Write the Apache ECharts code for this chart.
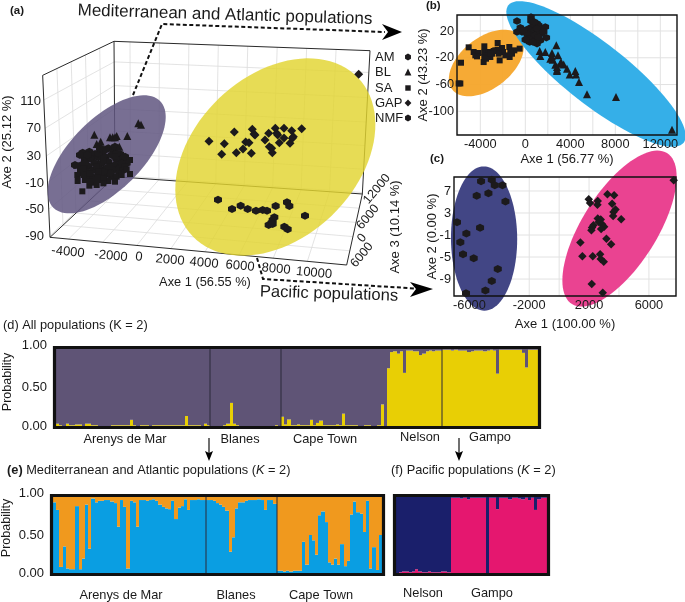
<!DOCTYPE html>
<html><head><meta charset="utf-8">
<style>html,body{margin:0;padding:0;background:#fff}#c{width:685px;height:602px}</style>
<script src="https://cdn.jsdelivr.net/npm/echarts@6/dist/echarts.min.js"></script>
</head><body><div id="c"></div>
<script>
// ---------- panel (a): projected ordination scores
const a_AM=[[-3040,31],[-2640,32.5],[-2300,29],[-1900,32.5],[-1500,37.5],[-1200,35],[-800,29],[-2900,21],[-2500,21],[-2100,24],[-1700,25],[-1300,27.5],[-1000,21],[-600,22.5],[-400,15],[-3500,12.5],[-3100,12.5],[-2700,11],[-2300,15],[-1900,15],[-1500,17.5],[-1100,12.5],[-700,15],[-2800,2.5],[-2400,5],[-2000,6],[-1600,7.5],[-1200,5],[-800,7.5],[-2500,-5],[-2100,-2.5],[-1700,-2.5],[-1300,-4],[-3200,27.5],[-2760,27.5],[-2100,30],[-1700,35],[-1000,30],[-2000,37.5],[-1100,40],[-500,25],[-600,5],[-2900,15],[-1400,0],[-1800,2.5]];
const a_BL=[[-2340,58],[-1000,56],[-360,56],[300,75],[460,73],[-1400,54],[-1240,54],[-2200,44],[-1960,47.5],[-840,40],[-1100,54]];
const a_SA=[[-3340,-11.5],[-3060,-27],[-2640,-18.5],[-2440,-14],[-3440,11.5],[-3360,-2.5],[-200,-1],[-200,20],[-500,10],[-900,0],[-1500,-11.5],[-2000,-10],[-2800,-5],[-3200,0],[-2300,-10],[-1800,-7.5],[-1000,-5],[-3000,7.5],[-2600,0],[-1400,10],[-2200,10],[-1800,20],[-1100,25],[-3200,5],[-2900,-10],[-2600,-12.5],[-2200,-17.5],[-1800,-15],[-1100,-12.5],[-400,6],[-2100,2.5],[-3000,-2.5],[-700,-2.5]];
const a_GAP=[[4540,48],[5460,44.5],[5300,28.5],[6060,62],[6180,31],[6580,36.5],[6740,47],[6940,46],[7080,30],[7140,66],[7240,59],[7300,57.5],[7900,50],[8120,60],[8520,67.5],[8600,60],[8660,57.5],[9040,67.5],[8760,46],[9040,53],[8160,40],[8300,37.5],[8340,31],[9400,45],[9500,64],[9600,55],[9540,52.5],[10100,67],[13520,148.5]];
const a_NMF=[[5080,-39.5],[5920,-53.5],[6440,-48.5],[6860,-53.5],[7360,-56],[7760,-55],[8020,-56],[8540,-49],[9220,-43.5],[9360,-49],[10300,-63.5],[8460,-66],[8360,-70],[8300,-74],[8120,-77.5],[8360,-76],[9060,-80],[9260,-84]];
// ---------- panel (b)
const b_AM=[[-741,34.9],[504,40.9],[-741,18.5],[-296,18.5],[0,20],[296,23.5],[593,26],[1037,31],[1185,28.5],[1481,23.5],[1778,26],[1867,10],[1185,18.5],[889,21],[593,16],[444,13.5],[148,8.5],[385,3.5],[1037,1],[800,8.5],[1333,6],[889,13.5],[148,16],[-444,25],[-148,21],[741,30],[1037,23.5],[1333,16],[296,8.5],[681,3.5],[1630,18.5],[504,35],[800,33.5],[1185,11],[0,7]];
const b_BL=[[2756,-1.4],[1274,-9.9],[1778,-11.4],[2370,-12.9],[2904,-16.4],[1333,-17.4],[2430,-22.9],[2222,-21.4],[2667,-30.4],[3170,-26.4],[3407,-29.9],[2815,-37.9],[3704,-36.4],[4444,-39.9],[2815,-39.9],[3941,-44.9],[4504,-44.9],[4770,-56.2],[5482,-74.6],[8059,-78.6],[13037,-127.4],[2370,-17.9],[3111,-28.9],[2815,-33.8]];
const b_SA=[[-5037,-4.4],[-3644,-2.9],[-2459,2.1],[-1422,-3.9],[-504,-6.4],[-4593,-11.4],[-4444,-16.4],[-4148,-12.9],[-3644,-11.4],[-3259,-11.4],[-2963,-13.9],[-2667,-8.9],[-2459,-7.9],[-2074,-5.4],[-1985,-11.4],[-2370,-13.9],[-3111,-18.9],[-3407,-16.4],[-3644,-18.9],[-3704,-26.4],[-3496,-21.4],[-2281,-23.9],[-1393,-18.9],[-1185,-13.9],[-978,-8.9],[-4296,-17.9],[-1778,-16.4],[-2815,-9.9],[-5719,-27.4],[-5778,-58.4],[-5926,-58.4],[-1333,-11.4],[-3111,-13.9]];
// ---------- panel (c)
const c_NMF=[[-5219,8.75],[-4504,9.05],[-4303,8.03],[-3789,8.03],[-4727,6.58],[-5510,6.15],[-3588,5.07],[-6828,1.32],[-5286,0.3],[-6202,-0.73],[-6605,-2.3],[-6426,-4.48],[-5711,-5.2],[-4102,-7.19],[-4504,-9.37],[-4929,-11.06],[-6225,-11.6]];
const c_GAP=[[1978,5.49],[2067,4.83],[2581,5.19],[2559,4.52],[3229,6.4],[3676,6.21],[3542,4.7],[3766,3.62],[3631,3.19],[3609,2.47],[4146,1.87],[2581,1.99],[2782,1.81],[2648,1.38],[2872,0.96],[3006,0.48],[2291,0.78],[2201,0.36],[2156,-0.13],[2805,0.11],[3162,-1.7],[3475,-2.66],[1419,-2.36],[1553,-4.84],[2246,-4.84],[2738,-4.48],[2782,-5.38],[2983,-5.86],[2179,-9.91],[2916,-11.48],[7655,8.93]];
// ellipses: centre x,y ; end of first semi-axis x,y ; end of second semi-axis x,y
const ellipseA1=[-1600,28.5,1600,108.5,-80,-9.5];
const ellipseA2=[8520,24.5,13480,143.5,11900,-63.5];
const ellipseB1=[-3467,-27.8,-444,12,-2074,-57.7];
const ellipseB2=[6282,-44.2,14074,-146.8,7970,-7.9];
const ellipseC1=[-5018,-1.64,-5040,11.47,-2805,-1.64];
const ellipseC2=[4034,0.17,7208,13.89,6157,-3.39];
// ---------- panel (d): membership in the yellow cluster
const d_AM=[.03,.01,0,.03,.01,.01,.02,.02,0,.03,.03,.01,.01,0,0,0,0,.01,.01,.01,.01,.01,.01,.08,.01,0,.01,.01,.01,0,.01,.01,.01,.01,.01,.01,.01,.01,.01,.01,.13,.01,.01,.01,.01,0,.03,.01];
const d_BL=[0,0,0,0,.01,.03,.30,.03,.01,0,0,0,0,0,0,0,0,0,0,0,.01,0];
const d_SA=[.12,.02,.085,.01,.01,.02,.01,.01,.01,.08,.01,.04,.07,.01,.01,.01,.01,.02,.01,.16,.01,.01,.01,.01,0,0,.01,.01,0,0,.01,.28,0];
const d_NE=[.75,.96,.97,.94,.97,.69,.98,.98,.97,.97,.92,.94,.97,.98,.97,.98,.98];
const d_GA=[.99,.99,.99,.98,.99,.98,.98,.98,.96,.97,.98,.98,.98,.97,.98,.99,.98,.68,.99,.99,.99,.99,.99,.99,.99,.95,.76,.99,.99,.99];
// ---------- panel (e): membership in the blue cluster
const e_AM=[.93,.83,.08,.35,.06,.05,.05,.88,.05,.19,.90,.32,.98,.93,.95,.95,.96,.96,.94,.92,.61,.96,.87,.06,.95,.93,.61,.96,.96,.95,.96,.97,.95,.90,.87,.85,.84,.95,.71,.86,.88,.97,.83,.96,.96,.97,.96,.96];
const e_BL=[.96,.96,.95,.92,.90,.87,.82,.28,.47,.85,.93,.93,.95,.96,.96,.96,.97,.96,.83,.96,.96,.91];
const e_SA=[.03,.03,.02,.03,.02,.03,.03,.03,.41,.11,.50,.43,.24,.76,.81,.67,.14,.11,.19,.11,.38,.09,.16,.77,.94,.80,.78,.54,.95,.06,.34,.04,.50];
// ---------- panel (f): membership in the pink cluster
const f_NE=[0,.01,.02,.02,.01,.02,.05,.02,.01,.01,.02,.01,.01,.01,.02,.02,.01];
const f_GA=[.99,.99,.99,.98,.99,.97,.99,.99,.99,.99,.99,0,.99,.99,.84,.99,.99,.99,.97,.99,.99,.98,.97,.99,.96,.99,.83,.97,.99,.99];
// ---------- tick labels and texts
const probTicks=[0,0.5,1];
const a_yTicks=['110','70','30','-10','-50','-90'];
const a_xTicks=['-4000','-2000','0','2000','4000','6000','8000','10000'];
const a_zTicks=['12000','6000','0','6000'];
const b_xTicks=[-4000,0,4000,8000,12000], b_yTicks=[-100,-60,-20,20];
const c_xTicks=[-6000,-2000,2000,6000], c_yTicks=[-9,-5,-1,3,7];
const b_xLines=[-6000,-4000,-2000,0,2000,4000,6000,8000,10000,12000];
const c_xLines=[-6000,-4000,-2000,0,2000,4000,6000];
const legendNames=['AM','BL','SA','GAP','NMF'];
const dBoundaries=[48,70,120], eBoundaries=[48,70];

const FONT='"Liberation Sans",Arial,sans-serif', INK='#1c1a1c';
const HEX='path://M0,-10L8.66,-5L8.66,5L0,10L-8.66,5L-8.66,-5Z';

// ---------- helpers
const toA=(p)=>[20*p[0]-8000,260-p[1]/2];
const lerp=(p,q,t)=>[p[0]+(q[0]-p[0])*t,p[1]+(q[1]-p[1])*t];
const BTL=[342,124],BTR=[1110,152],BBR=[1087,582],BBL=[345,530],FTL=[128,226],FBL=[150,712],FBR=[1040,795];
const segs=[];
const seg=(p,q,k)=>{const A=toA(p),B=toA(q);segs.push([A[0],A[1],B[0],B[1],k]);};
[.0625,.1775,.2925,.4075,.5225,.6375,.7525,.8675].forEach(t=>{const top=lerp(BTL,BTR,t),bot=lerp(BBL,BBR,t),fr=lerp(FBL,FBR,t);seg(top,bot,0);seg(bot,fr,0);});
[.152,.327,.498,.662,.827,.99].forEach(s=>{const l=lerp(FTL,FBL,s),m=lerp(BTL,BBL,s),r=lerp(BTR,BBR,s);seg(l,m,0);seg(m,r,0);});
[.2,.4,.6,.8].forEach(d=>{const l=lerp(FBL,BBL,d),r=lerp(FBR,BBR,d),t=lerp(FTL,BTL,d);seg(l,r,0);seg(t,l,0);});
[[FTL,BTL],[BTL,BTR],[BTR,BBR],[BBR,BBL],[BBL,BTL],[BBL,FBL],[FBL,FTL],[FBL,FBR],[FBR,BBR]].forEach(e=>seg(e[0],e[1],1));

const series=[];
const ellipse=(i,d,color,op)=>series.push({type:'custom',xAxisIndex:i,yAxisIndex:i,z:2,silent:true,
  encode:{x:[0,2,4],y:[1,3,5]},data:[d],renderItem(p,api){
    const c=api.coord([api.value(0),api.value(1)]),A=api.coord([api.value(2),api.value(3)]),B=api.coord([api.value(4),api.value(5)]);
    const pts=[];for(let k=0;k<96;k++){const t=k/96*2*Math.PI,ct=Math.cos(t),st=Math.sin(t);
      pts.push([c[0]+(A[0]-c[0])*ct+(B[0]-c[0])*st,c[1]+(A[1]-c[1])*ct+(B[1]-c[1])*st]);}
    return {type:'polygon',shape:{points:pts},style:{fill:color,opacity:op}};}});
const points=(i,d,sym,size,name)=>series.push({type:'scatter',name,xAxisIndex:i,yAxisIndex:i,z:4,silent:true,data:d,symbol:sym,symbolSize:size,itemStyle:{color:INK,opacity:1},clip:false});
const frame=(i,lw,grow)=>series.push({type:'custom',xAxisIndex:i,yAxisIndex:i,z:3,silent:true,data:[[0,0]],renderItem(p){
    const s=p.coordSys;return {type:'rect',shape:{x:s.x-grow,y:s.y-grow,width:s.width+2*grow,height:s.height+2*grow},style:{fill:'none',stroke:'#111',lineWidth:lw}};}});
// light reference lines under the ellipses, at the same values as the axis ticks
const gridLines=(i,xs,ys)=>series.push({type:'custom',xAxisIndex:i,yAxisIndex:i,z:1,silent:true,
  data:[...xs.map(v=>[v,ys[0],0]),...ys.map(v=>[xs[0],v,1])],renderItem(p,api){
    const s=p.coordSys,P=api.coord([api.value(0),api.value(1)]),k=api.value(2);
    const shape=k?{x1:s.x,y1:P[1],x2:s.x+s.width,y2:P[1]}:{x1:P[0],y1:s.y,x2:P[0],y2:s.y+s.height};
    return {type:'line',shape,style:{stroke:'#e2e2e2',lineWidth:1}};}});

// panel a
series.push({type:'custom',xAxisIndex:0,yAxisIndex:0,z:1,silent:true,encode:{x:[0,2],y:[1,3]},data:segs,renderItem(p,api){
  const P=api.coord([api.value(0),api.value(1)]),Q=api.coord([api.value(2),api.value(3)]),k=api.value(4);
  return {type:'line',shape:{x1:P[0],y1:P[1],x2:Q[0],y2:Q[1]},style:{stroke:k?'#2a2a2a':'#dcdcdc',lineWidth:k?1:.8}};}});
ellipse(0,ellipseA1,'#605680',.85);ellipse(0,ellipseA2,'#e2d430',.82);
points(0,a_AM,HEX,8,'AM');points(0,a_BL,'triangle',8,'BL');points(0,a_SA,'rect',6,'SA');points(0,a_GAP,'diamond',9,'GAP');points(0,a_NMF,HEX,8,'NMF');
// panel b
gridLines(1,b_xLines,b_yTicks);
ellipse(1,ellipseB1,'#f5a52a',.95);ellipse(1,ellipseB2,'#31ade8',.98);frame(1,1.4,0);
points(1,b_AM,HEX,7.5,'AM');points(1,b_BL,'triangle',8,'BL');points(1,b_SA,'rect',6,'SA');
// panel c
gridLines(2,c_xLines,c_yTicks);
ellipse(2,ellipseC1,'#3e4283',.98);ellipse(2,ellipseC2,'#ea3f8f',.98);frame(2,1.4,0);
points(2,c_NMF,HEX,8,'NMF');points(2,c_GAP,'diamond',8.5,'GAP');

// membership panels: each individual is a two-part stack, edges kept on whole pixels so neighbours meet cleanly
const bars=(i,low,lowCol,highCol)=>series.push({type:'custom',xAxisIndex:i,yAxisIndex:i,z:2,silent:true,
  encode:{x:0,y:1},data:low.map((v,k)=>[k,v]),renderItem(p,api){
    const k=api.value(0),v=api.value(1),w=api.size([1,0])[0],B=api.coord([k,0]),M=api.coord([k,v]),T=api.coord([k,1]);
    const L=Math.round(B[0]-w/2),R=Math.round(B[0]+w/2);
    return {type:'group',children:[
      {type:'rect',shape:{x:L,y:M[1],width:R-L,height:B[1]-M[1]},style:{fill:lowCol}},
      {type:'rect',shape:{x:L,y:T[1],width:R-L,height:M[1]-T[1]},style:{fill:highCol}}]};}});
const cats=(n)=>Array.from({length:n},(_,k)=>String(k+1));
const dLow=[...d_AM,...d_BL,...d_SA,...d_NE,...d_GA], eLow=[...e_AM,...e_BL,...e_SA], fLow=[...f_NE,...f_GA];
bars(3,dLow,'#e8cf05','#5f5476');
bars(4,eLow,'#0a9ee2','#f0991e');
bars(5,fLow,'#e5176f','#1a1f6b');
const seps=(i,list)=>series.push({type:'custom',xAxisIndex:i,yAxisIndex:i,z:3,silent:true,data:list.map(v=>[v,0]),renderItem(p,api){
  const w=api.size([1,0])[0],P=api.coord([api.value(0),0]),s=p.coordSys,x=Math.round(P[0]-w/2);
  return {type:'line',shape:{x1:x,y1:s.y,x2:x,y2:s.y+s.height},style:{stroke:'#2b2838',lineWidth:1}};}});
seps(3,dBoundaries);seps(4,eBoundaries);
frame(3,3.2,1.5);frame(4,3.2,1.5);frame(5,3.2,1.5);

// axes
const grids=[{left:0,top:0,width:410,height:300},{left:457,top:15,width:220,height:120},{left:454,top:177,width:222,height:119},
  {left:56,top:349,width:482,height:77},{left:53,top:497,width:329,height:76},{left:396,top:497,width:151,height:76}].map(o=>Object.assign(o,{outerBoundsMode:'none',containLabel:false}));
const hiddenVal=(min,max)=>({type:'value',show:false,min,max});
const tickText=(o)=>Object.assign({fontFamily:FONT,fontSize:12.8,color:'#1a1a1a',formatter:v=>String(v),margin:3},o);
const plotAxis=(min,max,labels,name,gap)=>({type:'value',z:3,min,max,name,nameLocation:'middle',nameGap:gap,nameMoveOverlap:false,
  nameTextStyle:{fontFamily:FONT,fontSize:13,color:'#1a1a1a'},axisLine:{show:false},
  axisTick:{show:false},axisLabel:tickText({customValues:labels}),splitLine:{show:false}});
const catAxis=(n)=>({type:'category',data:cats(n),axisLine:{show:false},axisTick:{show:false},axisLabel:{show:false}});
const probAxis=()=>({type:'value',min:0,max:1,axisLine:{show:false},axisTick:{show:false},splitLine:{show:false},
  axisLabel:{customValues:probTicks,fontFamily:FONT,fontSize:13,color:'#1a1a1a',margin:9,
    formatter:v=>v===1?'{t|1.00}':v.toFixed(2),rich:{t:{fontFamily:FONT,fontSize:13,color:'#1a1a1a',padding:[0,0,7,0]}}}});
const xAxis=[hiddenVal(-8000,16600),
  plotAxis(-6074,13482,b_xTicks,'Axe 1 (56.77 %)',17.5),
  plotAxis(-7028,7810,c_xTicks,'Axe 1 (100.00 %)',21.5),
  catAxis(150),catAxis(103),catAxis(47)].map((a,i)=>Object.assign(a,{gridIndex:i}));
const yAxis=[hiddenVal(-190,260),
  plotAxis(-135.4,43.9,b_yTicks,'Axe 2 (43.23 %)',27.5),
  plotAxis(-12.08,9.54,c_yTicks,'Axe 2 (0.00 %)',15.5),
  probAxis(),probAxis(),{type:'value',min:0,max:1,show:false}].map((a,i)=>Object.assign(a,{gridIndex:i}));

// texts, arrows and legend marks of the composite figure
const g=[];
const txt=(text,x,y,size,o={})=>g.push({type:'text',z:100,silent:true,x,y,rotation:o.rot||0,style:Object.assign({text,x:0,y:0,align:o.align||'center',verticalAlign:'middle',fill:'#1a1a1a',font:`${o.weight||'normal'} ${size}px ${FONT}`},o.rich?{rich:o.rich}:{})});
txt('(a)',10,11,11.5,{align:'left',weight:'bold'});txt('(b)',426,6,11.5,{align:'left',weight:'bold'});txt('(c)',430,159,11.5,{align:'left',weight:'bold'});
txt('Mediterranean and Atlantic populations',225,15,17,{rot:-.03});
txt('Pacific populations',329,294,16.6,{rot:-.03});
[101,128,156,183,209,236].forEach((y,i)=>txt(a_yTicks[i],i<3?41:44,y,13,{align:'right'}));
[[68,252],[111,256],[139,257],[170,260],[204,263],[240,266],[276,269],[314,273]].forEach((p,i)=>txt(a_xTicks[i],p[0],p[1],13,{rot:-.09}));
[[377,189],[368,217],[362,238],[362,255]].forEach((p,i)=>txt(a_zTicks[i],p[0],p[1],12.5,{rot:.88}));
txt('Axe 1 (56.55 %)',205,282,12.8);
txt('Axe 2 (25.12 %)',7,142,13,{rot:Math.PI/2});
txt('Axe 3 (10.14 %)',395,227,13,{rot:Math.PI/2});
txt('Probability',8,382,12.5,{rot:Math.PI/2});
txt('Probability',7,528,12.5,{rot:Math.PI/2});
const marks=[[408,57,'hex'],[408,72,'tri'],[408,88,'sq'],[408,103,'dia'],[408,118,'hex']];
legendNames.forEach((n,i)=>{const [x,y,k]=marks[i];txt(n,375,y,13,{align:'left'});
  const r=3.4;const shape={hex:[[0,-r],[r*.87,-r/2],[r*.87,r/2],[0,r],[-r*.87,r/2],[-r*.87,-r/2]],tri:[[0,-r],[r,r],[-r,r]],sq:[[-r*.8,-r*.8],[r*.8,-r*.8],[r*.8,r*.8],[-r*.8,r*.8]],dia:[[0,-r],[r,0],[0,r],[-r,0]]}[k];
  g.push({type:'polygon',z:100,silent:true,shape:{points:shape.map(p=>[p[0]+x,p[1]+y])},style:{fill:INK}});});
txt('(d) All populations (K = 2)',3,325,12.8,{align:'left'});
const r13={b:{font:`bold 12.8px ${FONT}`,fill:'#1a1a1a'},i:{font:`italic 12.8px ${FONT}`,fill:'#1a1a1a'},n:{font:`12.8px ${FONT}`,fill:'#1a1a1a'}};
txt('{b|(e)}{n| Mediterranean and Atlantic populations (}{i|K}{n| = 2)}',7,470,12.8,{align:'left',rich:r13});
txt('{n|(f) Pacific populations (}{i|K}{n| = 2)}',391,470,12.8,{align:'left',rich:r13});
[['Arenys de Mar',125,439],['Blanes',240,439],['Cape Town',325,439],['Nelson',420,437],['Gampo',490,437],
 ['Arenys de Mar',121,595],['Blanes',236,595],['Cape Town',321,595],['Nelson',423,593],['Gampo',492,593]].forEach(l=>txt(l[0],l[1],l[2],12.8));
const dash=(pts)=>g.push({type:'polyline',z:100,silent:true,shape:{points:pts},style:{stroke:'#111',fill:'none',lineWidth:2,lineDash:[4,2.5]}});
const poly=(pts)=>g.push({type:'polygon',z:100,silent:true,shape:{points:pts},style:{fill:'#000'}});
dash([[133,95],[162,24],[385,32]]);poly([[382,24],[402,32],[382,40],[388,32]]);
dash([[257,258],[263,279],[415,288.5]]);poly([[410,282],[433,289],[410,297],[416,289]]);
[[209,438,460],[459,438,460]].forEach(a=>{g.push({type:'line',z:100,silent:true,shape:{x1:a[0],y1:a[1],x2:a[0],y2:a[2]-6},style:{stroke:'#111',lineWidth:1.2}});poly([[a[0]-4,a[2]-9],[a[0],a[2]-7],[a[0]+4,a[2]-9],[a[0],a[2]+1]]);});

echarts.init(document.getElementById('c'),null,{renderer:'canvas'}).setOption({animation:false,backgroundColor:'#fff',textStyle:{fontFamily:FONT},
  grid:grids,xAxis,yAxis,series,graphic:{elements:g}});
</script></body></html>
